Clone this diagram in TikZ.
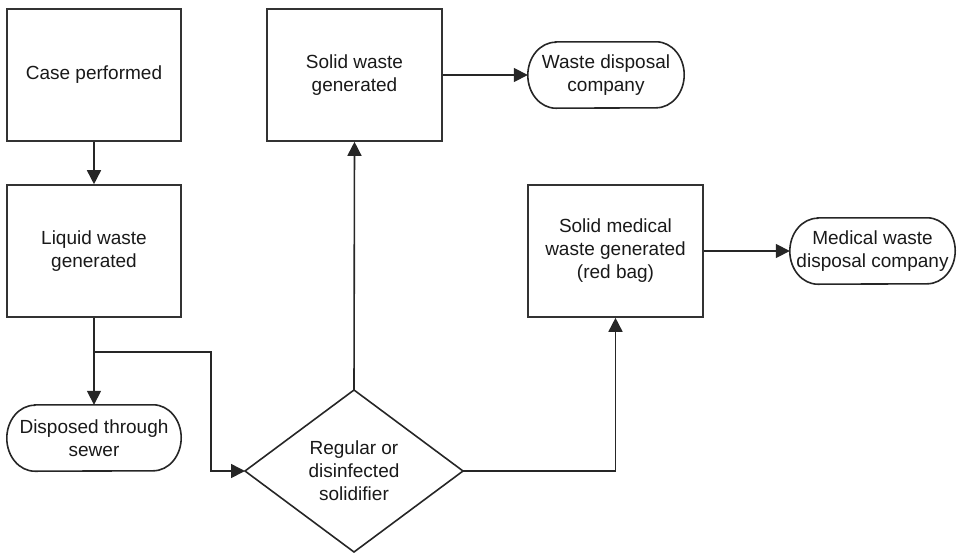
\documentclass[tikz,border=0pt]{standalone}
\usepackage{fontspec}
\setmainfont{Liberation Sans}
\usetikzlibrary{arrows.meta,calc}
\tikzset{
  x=1pt, y=-1pt,
  line/.style={line width=1.6pt, draw=black!85},
  arr/.style={line, -{Triangle[length=14pt,width=14pt]}},
  boxnode/.style={draw=black!80, line width=1.6pt, rectangle, minimum width=174pt, minimum height=132pt, inner sep=0pt, align=center, font=\fontsize{19}{23}\selectfont, text=black!90},
  termnode/.style={rectangle, minimum height=66pt, inner sep=0pt, align=center, font=\fontsize{19}{23}\selectfont, text=black!90},
  txt/.style={align=center, font=\fontsize{19}{23}\selectfont, text=black!90, inner sep=0pt},
}
\newcommand{\stadium}[2]{%
  \draw[line] ([xshift=#2]#1.north west) -- ([xshift=-#2]#1.north east)
    arc[start angle=90,end angle=-90,x radius=#2,y radius=33pt]
    -- ([xshift=#2]#1.south west)
    arc[start angle=270,end angle=90,x radius=#2,y radius=33pt] -- cycle;}
\begin{document}
\begin{tikzpicture}
\useasboundingbox (0,0) rectangle (957,552);
% boxes
\node[boxnode] (case) at (94,75) {Case performed};
\node[boxnode] (liquid) at (94,251) {Liquid waste\\generated};
\node[boxnode, minimum width=175pt] (solid) at (354.5,75) {Solid waste\\generated};
\node[boxnode, minimum width=175pt] (medical) at (615.5,251) {Solid medical\\waste generated\\(red bag)};
% terminals
\node[termnode, minimum width=174pt] (sewer) at (94,438) {Disposed through\\sewer};
\stadium{sewer}{28pt}
\node[termnode, minimum width=156pt] (wdc) at (606,75) {Waste disposal\\company};
\stadium{wdc}{28pt}
\node[termnode, minimum width=165pt] (mdc) at (872.5,251) {Medical waste\\disposal company};
\stadium{mdc}{28pt}
% diamond
\coordinate (dl) at (245,471);
\coordinate (dt) at (354,390);
\coordinate (dr) at (463,471);
\coordinate (db) at (354,552);
\draw[line, line join=miter] (dl) -- (dt) -- (dr) -- (db) -- cycle;
\node[txt] (dia) at (354,471) {Regular or\\disinfected\\solidifier};
% connectors
\coordinate (j) at (94,352);
\coordinate (jr) at (211,352);
\draw[arr] (case.south) -- (liquid.north);
\draw[line] (liquid.south) -- (j);
\draw[arr] (j) -- (sewer.north);
\draw[arr] (j) -- (jr) |- (dl);
\draw[arr] (dt) -- (solid.south);
\draw[arr] (solid.east) -- (wdc.west);
\draw[arr] (dr) -| (medical.south);
\draw[arr] (medical.east) -- (mdc.west);
\end{tikzpicture}
\end{document}
